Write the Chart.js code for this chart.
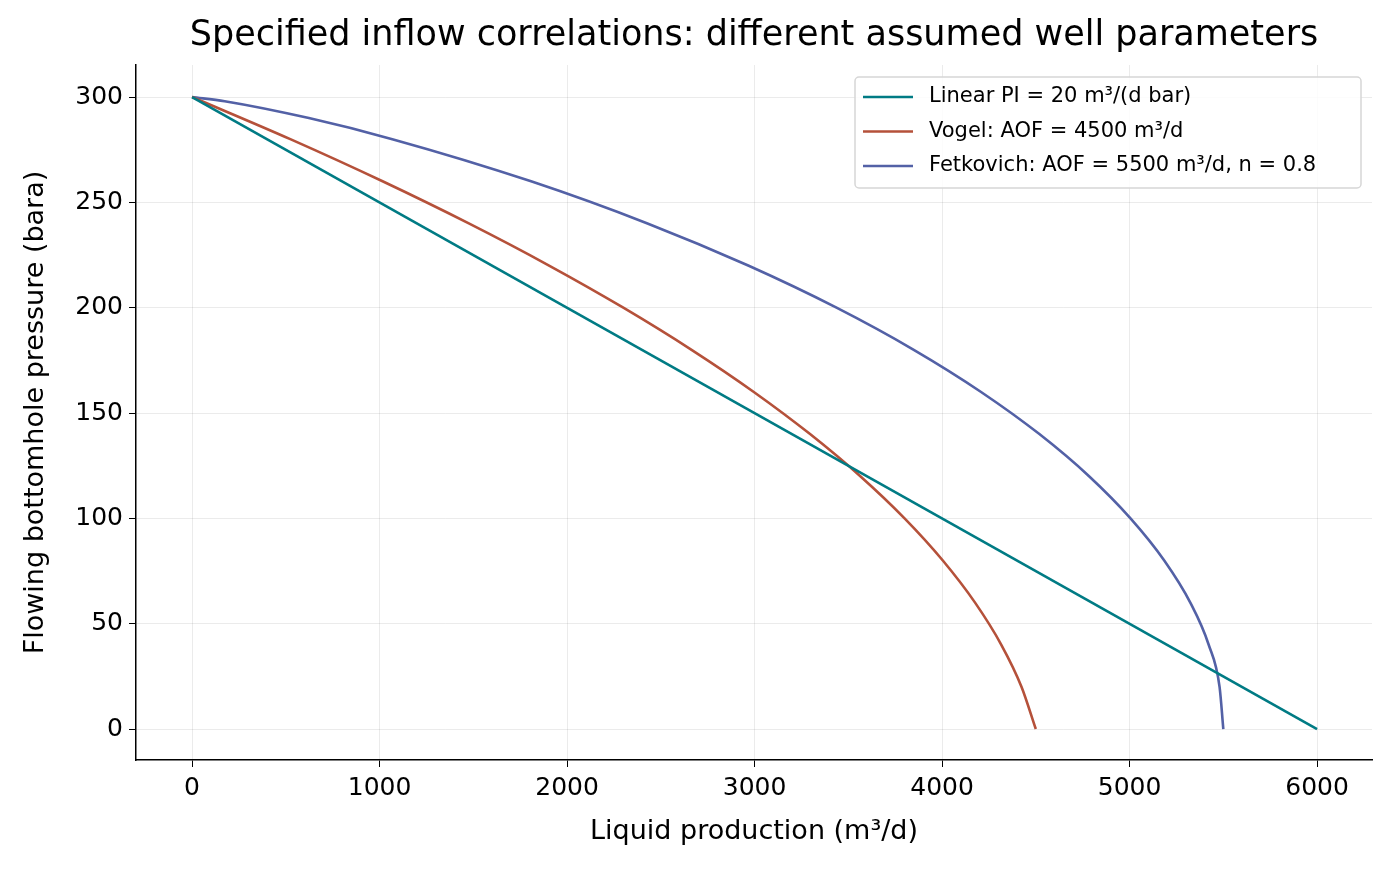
<!DOCTYPE html>
<html>
<head>
<meta charset="utf-8">
<script src="https://cdn.jsdelivr.net/npm/chart.js@4"></script>
<style>
  html, body { margin: 0; padding: 0; background: #fff; }
  #wrap { width: 1394px; height: 872px; }
</style>
</head>
<body>
<div id="wrap"><canvas id="ipr"></canvas></div>
<script>
// values
const linearQ = [0, 6000];
const linearP = [300, 0];

const vogelQ = [0, 524, 1016, 1476, 1904, 2300, 2664, 2996, 3296, 3564, 3800, 4004, 4176, 4316, 4424, 4500];
const vogelP = [300, 280, 260, 240, 220, 200, 180, 160, 140, 120, 100, 80, 60, 40, 20, 0];

const fetkQ = [0, 174, 623, 1068, 1808, 2429, 2966, 3437, 3849, 4208, 4519, 4784, 5005, 5185, 5324, 5422, 5480, 5500];
const fetkP = [300, 298, 290, 280, 260, 240, 220, 200, 180, 160, 140, 120, 100, 80, 60, 40, 20, 0];

const seriesLabels = ['Linear PI = 20 m³/(d bar)', 'Vogel: AOF = 4500 m³/d', 'Fetkovich: AOF = 5500 m³/d, n = 0.8'];
const seriesColors = ['#007b84', '#b5513a', '#5361a6'];
const xTicks = [0, 1000, 2000, 3000, 4000, 5000, 6000];
const yTicks = [0, 50, 100, 150, 200, 250, 300];

const pts = (xs, ys) => xs.map((x, i) => ({ x: x, y: ys[i] }));
const FONT = 'DejaVu Sans';

const overlay = {
  id: 'overlay',
  afterDraw(chart) {
    const c = chart.ctx, a = chart.chartArea;
    c.save();
    c.fillStyle = '#000';
    c.font = '35px ' + FONT;
    c.textAlign = 'center';
    c.textBaseline = 'middle';
    c.fillText('Specified inflow correlations: different assumed well parameters', (a.left + a.right) / 2, 36);
    // legend
    const bx = 855, by = 77, bw = 506, bh = 111;
    c.fillStyle = 'rgba(255,255,255,0.85)';
    c.strokeStyle = '#d6d6d6';
    c.lineWidth = 1.5;
    c.beginPath();
    c.roundRect(bx, by, bw, bh, 4);
    c.fill(); c.stroke();
    c.font = '21px ' + FONT;
    c.textAlign = 'left';
    seriesLabels.forEach((t, i) => {
      const yy = by + 20 + i * 34.5;
      c.strokeStyle = seriesColors[i];
      c.lineWidth = 2.6;
      c.beginPath(); c.moveTo(bx + 8, yy); c.lineTo(bx + 58, yy); c.stroke();
      c.fillStyle = '#000';
      c.fillText(t, bx + 74, yy);
    });
    c.restore();
  }
};

new Chart(document.getElementById('ipr'), {
  type: 'scatter',
  data: {
    datasets: [
      { label: seriesLabels[0], data: pts(linearQ, linearP), borderColor: seriesColors[0] },
      { label: seriesLabels[1], data: pts(vogelQ, vogelP), borderColor: seriesColors[1], cubicInterpolationMode: 'monotone' },
      { label: seriesLabels[2], data: pts(fetkQ, fetkP), borderColor: seriesColors[2], cubicInterpolationMode: 'monotone' }
    ].map(d => Object.assign(d, { showLine: true, pointRadius: 0, borderWidth: 2.6, fill: false }))
  },
  options: {
    responsive: true,
    maintainAspectRatio: false,
    animation: false,
    layout: { padding: { top: 65, right: 22, left: 20, bottom: 24 } },
    plugins: { legend: { display: false }, tooltip: { enabled: false } },
    scales: {
      x: {
        type: 'linear', min: -299, max: 6293,
        afterBuildTicks: s => { s.ticks = xTicks.map(v => ({ value: v })); },
        afterFit: s => { s.height = 88; },
        grid: { color: 'rgba(0,0,0,0.08)', tickLength: 7, tickColor: '#000', drawOnChartArea: true },
        border: { color: '#000', width: 1.5 },
        ticks: { color: '#000', font: { family: FONT, size: 25 }, padding: 6, maxRotation: 0, callback: v => String(v) },
        title: { display: true, text: 'Liquid production (m³/d)', color: '#000', font: { family: FONT, size: 27 }, padding: 0 }
      },
      y: {
        type: 'linear', min: -14.7, max: 315.2,
        afterBuildTicks: s => { s.ticks = yTicks.map(v => ({ value: v })); },
        afterFit: s => { s.width = 116; },
        grid: { color: 'rgba(0,0,0,0.08)', tickLength: 7, tickColor: '#000' },
        border: { color: '#000', width: 1.5 },
        ticks: { color: '#000', font: { family: FONT, size: 25 }, padding: 6, callback: v => String(v) },
        title: { display: true, text: 'Flowing bottomhole pressure (bara)', color: '#000', font: { family: FONT, size: 27 }, padding: { top: 0, bottom: 0 } }
      }
    }
  },
  plugins: [overlay]
});
</script>
</body>
</html>
